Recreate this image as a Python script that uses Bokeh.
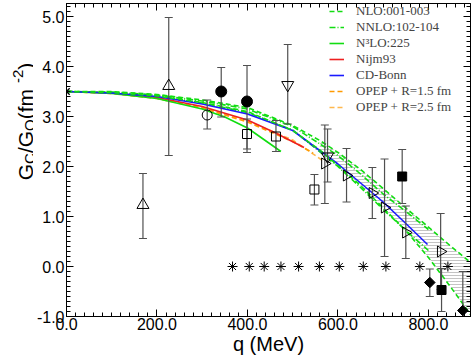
import numpy as np
from bokeh.plotting import figure
from bokeh.layouts import row
from bokeh.models import (Range1d, LinearAxis, SingleIntervalTicker, PrintfTickFormatter,
                          Label, Legend, LegendItem)
from bokeh.embed import file_html
from bokeh.resources import INLINE

# ---------------- theory curves (q in MeV, Gc/Gq in fm^-2) ----------------
nlo_q = [0, 100, 200, 300, 400, 500, 560, 600, 650, 700, 750, 800, 850, 900]
nlo_hi = [3.50, 3.50, 3.44, 3.33, 3.18, 2.82, 2.52, 2.28, 1.94, 1.56, 1.17, 0.79, 0.40, 0.03]
nlo_lo = [3.50, 3.48, 3.41, 3.28, 3.10, 2.72, 2.33, 2.02, 1.62, 1.17, 0.72, 0.18, -0.42, -1.05]

nnlo_q = [0, 100, 200, 300, 400, 500, 600, 650, 700, 750, 800]
nnlo_hi = [3.50, 3.49, 3.43, 3.31, 3.15, 2.80, 2.22, 1.85, 1.45, 1.10, 0.74]
nnlo_lo = [3.50, 3.48, 3.41, 3.27, 3.08, 2.73, 2.00, 1.58, 1.14, 0.72, 0.32]

n3lo_q = [0, 100, 200, 300, 350, 400, 474]
n3lo_g = [3.50, 3.46, 3.36, 3.15, 2.99, 2.77, 2.30]

nijm_q = [0, 100, 200, 300, 400, 460, 525]
nijm_g = [3.50, 3.47, 3.38, 3.20, 2.93, 2.68, 2.38]

cdb_q = [0, 100, 200, 300, 400, 500, 600, 650, 700, 750, 798]
cdb_g = [3.50, 3.47, 3.40, 3.25, 3.05, 2.72, 2.05, 1.67, 1.29, 0.86, 0.44]

opep15_q = [0, 100, 200, 300, 400, 500, 545]
opep15_g = [3.50, 3.46, 3.36, 3.17, 2.89, 2.50, 2.27]
opep25_q = [0, 100, 200, 300, 400, 500, 566]
opep25_g = [3.50, 3.46, 3.37, 3.18, 2.91, 2.53, 2.12]

band_start = 560

# ---------------- data points ----------------
cross_q, cross_g = [0], [3.5]

tri_q = [169, 226]
tri_g = [1.23, 3.61]
tri_lo = [0.56, 2.22]
tri_hi = [1.86, 4.98]

ocirc_q = [311]
ocirc_g = [3.03]
ocirc_lo = [2.75]
ocirc_hi = [3.33]

fcirc_q = [342, 399]
fcirc_g = [3.50, 3.30]
fcirc_lo = [2.99, 2.28]
fcirc_hi = [3.98, 4.02]

osq_q = [399, 463, 548]
osq_g = [2.65, 2.60, 1.54]
osq_lo = [2.35, 2.30, 1.23]
osq_hi = [2.95, 2.92, 1.84]

itri_q = [489, 577]
itri_g = [3.63, 2.20]
itri_lo = [2.85, 1.69]
itri_hi = [4.44, 2.75]

rtri_q = [571, 619, 676, 703, 750, 827]
rtri_g = [2.06, 1.82, 1.47, 1.18, 0.68, 0.30]
rtri_lo = [1.26, 1.29, 0.96, 0.20, 0.16, -0.46]
rtri_hi = [2.83, 2.36, 1.98, 2.15, 1.21, 1.06]

fsq_q = [742, 829]
fsq_g = [1.80, -0.47]
fsq_lo = [1.26, -0.90]
fsq_hi = [2.34, -0.04]

fdia_q = [803, 876]
fdia_g = [-0.32, -0.88]
fdia_lo = [-0.60, -1.40]
fdia_hi = [-0.05, -0.10]

star_q = [367, 404, 437, 474, 513, 559, 603, 656, 706, 781, 843]
star_g = [0.0] * len(star_q)

x_ticks_interval = 200
y_ticks_interval = 1.0

# ---------------- main figure ----------------
H = 357
YLAB_W = 33
p = figure(width=474 - YLAB_W, height=H, output_backend="svg", toolbar_location=None,
           x_range=Range1d(0, 893), y_range=Range1d(-1, 5.26),
           min_border_left=32, min_border_right=4, min_border_top=3, min_border_bottom=40,
           x_axis_location=None, y_axis_location=None)
p.grid.visible = False
p.outline_line_color = "black"
p.background_fill_color = "white"
p.border_fill_color = "white"

TICKFONT = "Liberation Sans"


def make_axis(kind, side, labels):
    ax = LinearAxis()
    if kind == "x":
        ax.ticker = SingleIntervalTicker(interval=x_ticks_interval, num_minor_ticks=10)
    else:
        ax.ticker = SingleIntervalTicker(interval=y_ticks_interval, num_minor_ticks=10)
    ax.formatter = PrintfTickFormatter(format="%.1f")
    ax.axis_line_color = "black"
    ax.major_tick_in = 7
    ax.major_tick_out = 0
    ax.minor_tick_in = 4
    ax.minor_tick_out = 0
    ax.major_tick_line_color = "black"
    ax.minor_tick_line_color = "black"
    if labels:
        ax.major_label_text_font = TICKFONT
        ax.major_label_text_font_size = "16px"
        ax.major_label_text_color = "black"
        ax.major_label_standoff = 2 if kind == "y" else 1
    else:
        ax.major_label_text_font_size = "0px"
        ax.major_label_text_color = None
        ax.major_label_standoff = 0
    if kind == "x" and side == "below":
        ax.axis_label = "q (MeV)"
        ax.axis_label_text_font = TICKFONT
        ax.axis_label_text_font_size = "20px"
        ax.axis_label_text_font_style = "normal"
        ax.axis_label_text_color = "black"
        ax.axis_label_standoff = 0
    p.add_layout(ax, side)


make_axis("x", "below", True)
make_axis("y", "left", True)
make_axis("x", "above", False)
make_axis("y", "right", False)

GREEN = "#11dd11"
RED = "#ee2020"
BLUE = "#1a1aff"
ORANGE1 = "#ff9a00"
ORANGE2 = "#ffb84d"

# hatched band between the NLO curves
i0 = nlo_q.index(band_start)
p.varea(x=nlo_q[i0:], y1=nlo_lo[i0:], y2=nlo_hi[i0:], fill_color=None, fill_alpha=0,
        hatch_pattern="horizontal_line", hatch_color="#c4c4c4", hatch_scale=3, hatch_weight=1)

LW = 1.6
r_op25 = p.line(opep25_q, opep25_g, line_color=ORANGE2, line_width=LW, line_dash="5 3")
r_op15 = p.line(opep15_q, opep15_g, line_color=ORANGE1, line_width=LW, line_dash="5 3")
r_nijm = p.line(nijm_q, nijm_g, line_color=RED, line_width=LW)
r_n3lo = p.line(n3lo_q, n3lo_g, line_color=GREEN, line_width=LW)
r_nnlo_hi = p.line(nnlo_q, nnlo_hi, line_color=GREEN, line_width=LW, line_dash="6 2 1 2")
r_nnlo_lo = p.line(nnlo_q, nnlo_lo, line_color=GREEN, line_width=LW, line_dash="6 2 1 2")
r_cdb = p.line(cdb_q, cdb_g, line_color=BLUE, line_width=LW)
r_nlo_hi = p.line(nlo_q, nlo_hi, line_color=GREEN, line_width=LW, line_dash="5 3")
r_nlo_lo = p.line(nlo_q, nlo_lo, line_color=GREEN, line_width=LW, line_dash="5 3")

# error bars
EB = "#505050"
for qs, lo, hi in [(tri_q, tri_lo, tri_hi), (ocirc_q, ocirc_lo, ocirc_hi),
                   (fcirc_q, fcirc_lo, fcirc_hi), (osq_q, osq_lo, osq_hi),
                   (itri_q, itri_lo, itri_hi), (rtri_q, rtri_lo, rtri_hi),
                   (fsq_q, fsq_lo, fsq_hi), (fdia_q, fdia_lo, fdia_hi)]:
    p.segment(x0=qs, y0=lo, x1=qs, y1=hi, line_color=EB, line_width=1.2)
    p.scatter(x=qs + qs, y=lo + hi, marker="dash", size=8, line_color=EB, line_width=1.2)

# markers
K = "black"
p.scatter(cross_q, cross_g, marker="x", size=9, line_color=K, line_width=1.3)
p.scatter(tri_q, tri_g, marker="triangle", size=12, line_color=K, fill_color=None, line_width=1)
p.scatter(ocirc_q, ocirc_g, marker="circle", size=10, line_color=K, fill_color=None, line_width=1)
p.scatter(fcirc_q, fcirc_g, marker="circle", size=11, line_color=K, fill_color=K)
p.scatter(osq_q, osq_g, marker="square", size=9, line_color=K, fill_color=None, line_width=1)
p.scatter(itri_q, itri_g, marker="inverted_triangle", size=12, line_color=K, fill_color=None, line_width=1)
p.scatter(rtri_q, rtri_g, marker="triangle", angle=-np.pi / 2, size=11, line_color=K,
          fill_color=None, line_width=1)
p.scatter(fsq_q, fsq_g, marker="square", size=9, line_color=K, fill_color=K)
p.scatter(fdia_q, fdia_g, marker="square", angle=np.pi / 4, size=7.5, line_color=K, fill_color=K)
p.scatter(star_q, star_g, marker="asterisk", size=10, line_color=K, line_width=1)

# legend
legend = Legend(items=[
    LegendItem(label="NLO:001-003", renderers=[r_nlo_hi]),
    LegendItem(label="NNLO:102-104", renderers=[r_nnlo_hi]),
    LegendItem(label="N\u00b3LO:225", renderers=[r_n3lo]),
    LegendItem(label="Nijm93", renderers=[r_nijm]),
    LegendItem(label="CD-Bonn", renderers=[r_cdb]),
    LegendItem(label="OPEP + R=1.5 fm", renderers=[r_op15]),
    LegendItem(label="OPEP + R=2.5 fm", renderers=[r_op25]),
], location=(263, 201))
legend.label_text_font = "Liberation Serif"
legend.label_text_font_size = "13px"
legend.label_text_line_height = 1.0
legend.glyph_width = 15
legend.glyph_height = 14
legend.label_height = 14
legend.label_standoff = 12
legend.spacing = 0
legend.padding = 0
legend.margin = 0
legend.border_line_color = None
legend.background_fill_alpha = 0
p.add_layout(legend)

# ---------------- y-axis title panel (sub/superscripts) ----------------
ylab = figure(width=YLAB_W, height=H, output_backend="svg", toolbar_location=None,
              x_range=Range1d(0, 1), y_range=Range1d(0, 1), min_border=0,
              x_axis_location=None, y_axis_location=None)
ylab.grid.visible = False
ylab.outline_line_color = None
ylab.background_fill_color = "white"
ylab.border_fill_color = "white"

W = {"G": 0.778, "C": 0.722, "Q": 0.778, "/": 0.278, " ": 0.278, "(": 0.333, ")": 0.333,
     "f": 0.278, "m": 0.833, "-": 0.333, "2": 0.556}
BIG, SMALL = 21, 15
pieces = [("G", BIG, 0), ("C", SMALL, 4), ("/G", BIG, 0), ("Q", SMALL, 4),
          (" (fm", BIG, 0), ("-2", SMALL, -8), (")", BIG, 0)]
total = sum(sum(W[c] for c in t) * s for t, s, _ in pieces)
ypos = 195 - total / 2
for t, s, shift in pieces:
    ylab.add_layout(Label(x=25 + shift, y=ypos, x_units="screen", y_units="screen", text=t,
                          angle=np.pi / 2, text_align="left", text_baseline="alphabetic",
                          text_font="Liberation Sans", text_font_size=f"{s}px",
                          text_color="black"))
    ypos += sum(W[c] for c in t) * s

layout = row(ylab, p, spacing=0)
open("out.html", "w").write(file_html(layout, INLINE))
